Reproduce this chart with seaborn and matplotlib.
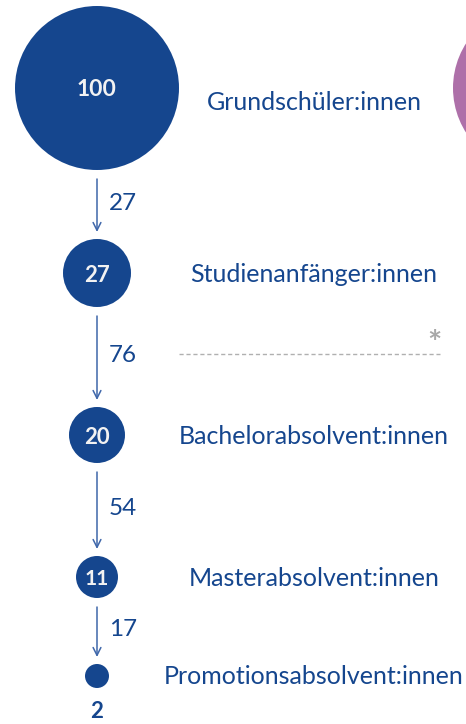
import matplotlib
matplotlib.use("Agg")
import matplotlib.pyplot as plt
import seaborn as sns
import pandas as pd

# ---- data ----
stages = ["Grundschüler:innen", "Studienanfänger:innen", "Bachelorabsolvent:innen",
          "Masterabsolvent:innen", "Promotionsabsolvent:innen"]
counts = [100, 27, 20, 11, 2]
transition_rates = [27, 76, 54, 17]   # % moving on to the next stage

# ---- layout / style (pixels) ----
W, H = 466, 724
col_x = 97
stage_y = [88, 273, 435, 577, 676]
radius_px = [82, 34, 28, 21, 12]
blue = "#15468e"
arrow_blue = "#3f67aa"
purple = "#ae70a9"
label_x = 314

sns.set_theme(style="white")
plt.rcParams["font.family"] = ["Lato", "DejaVu Sans"]

fig = plt.figure(figsize=(W / 100, H / 100), dpi=100)
ax = fig.add_axes([0, 0, 1, 1])
ax.set_xlim(0, W)
ax.set_ylim(H, 0)
ax.axis("off")

df = pd.DataFrame({"stage": stages, "count": counts, "x": col_x, "y": stage_y})
size_map = {c: (2 * r * 0.72) ** 2 for c, r in zip(counts, radius_px)}
sns.scatterplot(data=df, x="x", y="y", size="count", sizes=size_map,
                color=blue, edgecolor="none", linewidth=0, legend=False, ax=ax, zorder=3)

# cut-off second column circle (purple)
sns.scatterplot(x=[536], y=[stage_y[0]], s=(2 * 83 * 0.72) ** 2, color=purple,
                edgecolor="none", linewidth=0, legend=False, ax=ax, zorder=3)

# numbers inside circles
for i, (c, y) in enumerate(zip(counts, stage_y)):
    if radius_px[i] >= 18:
        ax.text(col_x, y + 2, str(c), color="#f2f2f2",
                fontsize=16.5 if c == 100 else (16 if c > 11 else 15),
                fontweight="bold", ha="center", va="center", zorder=4)
    else:
        ax.text(col_x, y + radius_px[i] + 23, str(c), color=blue, fontsize=16,
                fontweight="bold", ha="center", va="center", zorder=4)

# stage labels
for s, y in zip(stages, stage_y):
    yy = y + (14 if s == stages[0] else 1)
    ax.text(label_x, yy, s, color=blue, fontsize=18, ha="center", va="center")

# arrows with transition rates
for i, r in enumerate(transition_rates):
    y0 = stage_y[i] + radius_px[i] + 9
    y1 = stage_y[i + 1] - radius_px[i + 1] - 7
    ax.annotate("", xy=(col_x, y1), xytext=(col_x, y0),
                arrowprops=dict(arrowstyle="->", color=arrow_blue, lw=1.1,
                                mutation_scale=14, shrinkA=0, shrinkB=0))
    ax.text(col_x + 12, (y0 + y1) / 2 - 2, str(r), color=blue, fontsize=17.5,
            ha="left", va="center")

# dashed separator and asterisk
ax.plot([179, 440], [354, 354], color="#b0b0b0", lw=1, ls=(0, (3, 2)))
ax.text(434, 344, "*", color="#a8a8a8", fontsize=24, fontweight="bold",
        ha="center", va="center")

fig.savefig("out.png", dpi=100)
